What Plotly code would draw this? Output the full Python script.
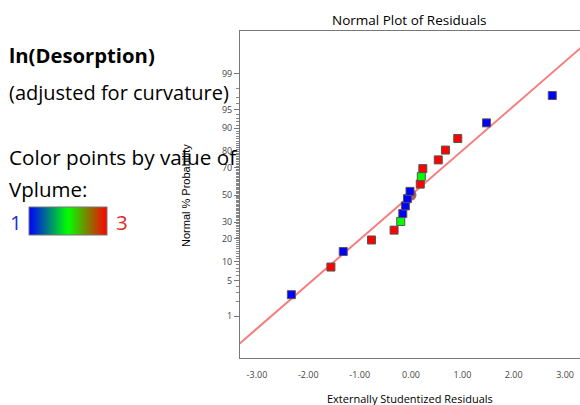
import plotly.graph_objects as go
from statistics import NormalDist

# ---------------- data ----------------
residuals = [-2.33, -1.56, -1.32, -0.77, -0.33, -0.20, -0.16, -0.11, -0.07,
             -0.02, 0.18, 0.20, 0.23, 0.53, 0.67, 0.91, 1.47, 2.75]
prob_pct = [2.78, 8.33, 13.9, 19.4, 25.0, 30.6, 36.1, 41.7, 47.2,
            52.8, 58.3, 63.9, 69.4, 75.0, 80.6, 86.1, 91.7, 97.2]
vplume = [1, 3, 1, 3, 3, 2, 1, 1, 1,
          1, 3, 2, 3, 3, 3, 3, 1, 1]
center_x = [0.0]
center_pct = [50.0]
fit_slope = 0.855
fit_intercept = 0.0
line_x = [-3.4, 3.4]
major_pct = [1, 5, 10, 20, 30, 50, 70, 80, 90, 95, 99]
major_labels = ["1", "5", "10", "20", "30", "50", "70", "80", "90", "95", "99"]
minor_pct = [p for p in range(1, 100) if p not in major_pct]
x_ticks = [-3, -2, -1, 0, 1, 2, 3]
x_labels = ["-3.00", "-2.00", "-1.00", "0.00", "1.00", "2.00", "3.00"]

nd = NormalDist()
def z(p):
    return nd.inv_cdf(p / 100.0)

W, H = 580, 405
# plot area in pixels
PL, PR, PT, PB = 240, 580, 31, 358

fig = go.Figure()

fig.add_trace(go.Scatter(
    x=line_x, y=[fit_slope * v + fit_intercept for v in line_x],
    mode="lines", line=dict(color="rgb(245,125,125)", width=2),
    hoverinfo="skip", showlegend=False))

fig.add_trace(go.Scatter(
    x=center_x, y=[z(p) for p in center_pct], mode="markers",
    marker=dict(symbol="circle", size=11, color="rgba(150,55,75,0.8)"),
    showlegend=False))

fig.add_trace(go.Scatter(
    x=residuals, y=[z(p) for p in prob_pct], mode="markers",
    marker=dict(symbol="square", size=8, color=vplume, cmin=1, cmax=3,
                colorscale=[[0, "#0000ff"], [0.5, "#00ff00"], [1, "#ff0000"]],
                line=dict(color="#555555", width=1),
                showscale=True,
                colorbar=dict(orientation="h", x=29 / W, xanchor="left",
                              y=1 - 207 / H, yanchor="top",
                              len=78, lenmode="pixels", thickness=28,
                              thicknessmode="pixels",
                              xpad=0, ypad=0,
                              outlinecolor="#777777", outlinewidth=1,
                              showticklabels=False, ticks="")),
    showlegend=False))

fig.update_layout(
    width=W, height=H,
    margin=dict(l=0, r=0, t=0, b=0),
    paper_bgcolor="white", plot_bgcolor="white",
    xaxis=dict(domain=[PL / W, PR / W], range=[-3.33, 3.29],
               tickmode="array", tickvals=x_ticks, ticktext=x_labels,
               ticks="outside", ticklen=8, tickcolor="rgba(0,0,0,0)",
               tickfont=dict(family="Open Sans", size=9, color="#444"),
               showgrid=False, zeroline=False,
               showline=True, linecolor="#777777", linewidth=1, mirror=True),
    yaxis=dict(domain=[1 - PB / H, 1 - PT / H], range=[-3.13, 3.15],
               tickmode="array", tickvals=[z(p) for p in major_pct],
               ticktext=major_labels,
               ticks="outside", ticklen=5, tickcolor="#777777",
               minor=dict(tickmode="array", tickvals=[z(p) for p in minor_pct],
                          ticks="outside", ticklen=3, tickcolor="#888888"),
               tickfont=dict(family="Open Sans", size=9, color="#444"),
               showgrid=False, zeroline=False,
               showline=True, linecolor="#777777", linewidth=1),
)

ann = []
def add_text(text, xpx, ypx, size, color="black", bold=False, family="Open Sans",
             xanchor="left", angle=0):
    ann.append(dict(text=("<b>%s</b>" % text) if bold else text,
                    xref="paper", yref="paper", x=xpx / W, y=1 - ypx / H,
                    xanchor=xanchor, yanchor="middle", showarrow=False,
                    textangle=angle,
                    font=dict(family=family, size=size, color=color)))

add_text("ln(Desorption)", 7, 55, 20.3, bold=True)
add_text("(adjusted for curvature)", 7, 92, 20)
add_text("Color points by value of", 7, 157, 20.7)
add_text("Vplume:", 7, 189, 20.5)
add_text("1", 8, 222, 20.5, color="#2a2ae0")
add_text("3", 114, 222, 20.5, color="#e02a2a")
add_text("Normal Plot of Residuals", 409, 20, 13.5, xanchor="center")
add_text("Externally Studentized Residuals", 410, 398, 11, xanchor="center")
add_text("Normal % Probability", 186, 195, 11, family="Liberation Sans",
         xanchor="center", angle=-90)
fig.update_layout(annotations=ann)

fig.write_html("out.html")
